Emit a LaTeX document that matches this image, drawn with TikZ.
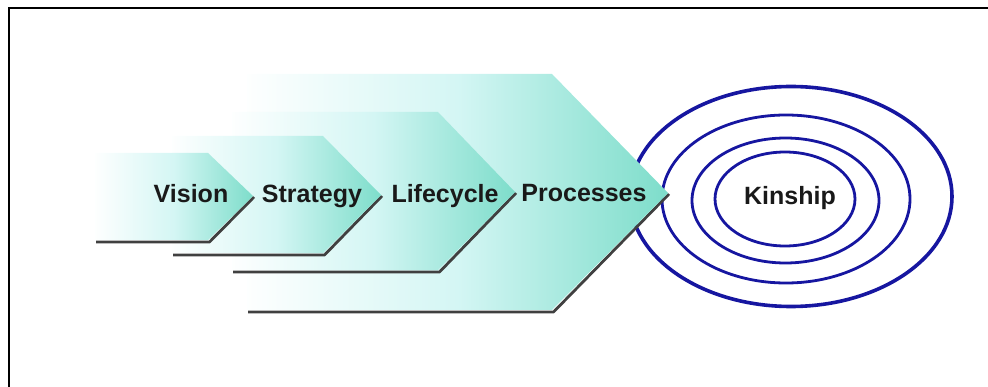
\documentclass[tikz,border=0pt]{standalone}
\usepackage{fontspec}
\setmainfont{Liberation Sans}
\definecolor{tealA}{RGB}{108,216,194}
\definecolor{cyanA}{RGB}{212,246,244}
\definecolor{ringblue}{RGB}{22,22,160}
\pgfdeclarehorizontalshading{chevshade}{100bp}{color(0bp)=(white);color(24bp)=(white);color(50bp)=(cyanA);color(80bp)=(tealA);color(100bp)=(tealA)}
% #1 left, #2 top-right x, #3 tip x, #4 top y, #5 bottom y, #6 mid y
\newcommand\mychevron[6]{%
  \draw[chevshadow] (#1+1,#5+2) -- (#2+1.5,#5+2) -- (#3+1,#6+1);
  \shade[shading=chevshade] (#1,#4) -- (#2,#4) -- (#3,#6) -- (#2,#5) -- (#1,#5) -- cycle;
}
\tikzset{
  chevshadow/.style={line width=2.8pt, draw=black!75, line join=round},
  ring/.style={draw=ringblue, line width=2.8pt},
  label/.style={anchor=base, inner sep=0pt, text=black!90, font=\fontsize{25}{28}\selectfont\bfseries},
}
\begin{document}
\begin{tikzpicture}[x=1pt,y=-1pt]
\useasboundingbox (0,0) rectangle (988,387);
% frame
\coordinate (fb) at (8.5,388);
\coordinate (fc) at (8.5,8);
\coordinate (fr) at (989,8);
\draw[line width=2pt, line join=miter] (fb) -- (fc) -- (fr);
% rings
\draw[ring, line width=3.6pt] (791,196.5) ellipse [x radius=161pt, y radius=110pt];
\draw[ring] (786,199) ellipse [x radius=124pt, y radius=84pt];
\draw[ring] (785.5,200.5) ellipse [x radius=93.5pt, y radius=62.5pt];
\draw[ring] (785,199) ellipse [x radius=70pt, y radius=47pt];
% chevrons, back to front
\mychevron{247}{552}{668}{74}{310}{193}
\mychevron{232}{438}{515}{112}{270}{192}
\mychevron{172}{323}{381}{136}{253}{195}
\mychevron{95}{208}{253}{153}{240}{196}
% labels
\node[label] (vision) at (191,203) {Vision};
\node[label] (strategy) at (312,203) {Strategy};
\node[label] (lifecycle) at (445,203) {Lifecycle};
\node[label] (processes) at (584,202) {Processes};
\node[label] (kinship) at (790,205) {Kinship};
\end{tikzpicture}
\end{document}
